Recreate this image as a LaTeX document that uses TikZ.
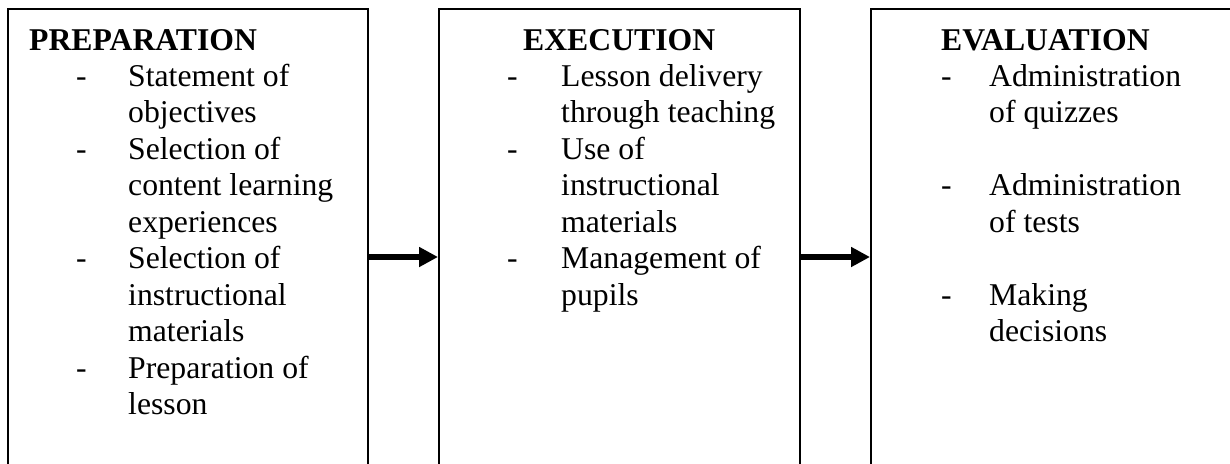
\documentclass[tikz,border=0pt]{standalone}
\usepackage{fontspec}
\setmainfont{Liberation Serif}
\usetikzlibrary{arrows.meta}
\begin{document}
\begin{tikzpicture}[x=1pt,y=1pt,
  stage/.style={draw, line width=2pt, minimum width=#1, minimum height=496pt, inner sep=0pt},
  head/.style={anchor=base west, inner sep=0pt, font=\fontsize{31.7}{36.5}\selectfont\bfseries},
  txt/.style={anchor=base west, inner sep=0pt, font=\fontsize{31.7}{36.5}\selectfont},
  flow/.style={line width=6pt, -{Triangle[length=19pt,width=19pt]}}]
\path[use as bounding box] (0,0) rectangle (1230,-463);
\clip (0,0) rectangle (1230,-463);
% boxes (open at the bottom edge of the picture)
\node[stage=360pt] (prep) at (188,-257) {};
\node[stage=361pt] (exec) at (619.5,-257) {};
\node[stage=500pt] (eval) at (1121,-257) {};
% arrows
\draw[flow] (prep.east) -- (exec.west);
\draw[flow] (exec.east) -- (eval.west);
% headings
\node[head] (h1) at (29,-50) {PREPARATION};
\node[head] (h2) at (523,-50) {EXECUTION};
\node[head] (h3) at (941,-50) {EVALUATION};
% preparation items
\foreach \k/\t in {1/Statement of, 2/objectives, 3/Selection of, 4/content learning, 5/experiences, 6/Selection of, 7/instructional, 8/materials, 9/Preparation of, 10/lesson}
  \node[txt] (pa\k) at (128,{-86-36.5*(\k-1)}) {\t};
\foreach \k in {1,3,6,9}
  \node[txt] (pd\k) at (76,{-86-36.5*(\k-1)}) {-};
% execution items
\foreach \k/\t in {1/Lesson delivery, 2/through teaching, 3/Use of, 4/instructional, 5/materials, 6/Management of, 7/pupils}
  \node[txt] (ea\k) at (561,{-86-36.5*(\k-1)}) {\t};
\foreach \k in {1,3,6}
  \node[txt] (ed\k) at (507,{-86-36.5*(\k-1)}) {-};
% evaluation items
\foreach \k/\t in {1/Administration, 2/of quizzes, 4/Administration, 5/of tests, 7/Making, 8/decisions}
  \node[txt] (va\k) at (989,{-86-36.5*(\k-1)}) {\t};
\foreach \k in {1,4,7}
  \node[txt] (vd\k) at (941,{-86-36.5*(\k-1)}) {-};
\end{tikzpicture}
\end{document}
